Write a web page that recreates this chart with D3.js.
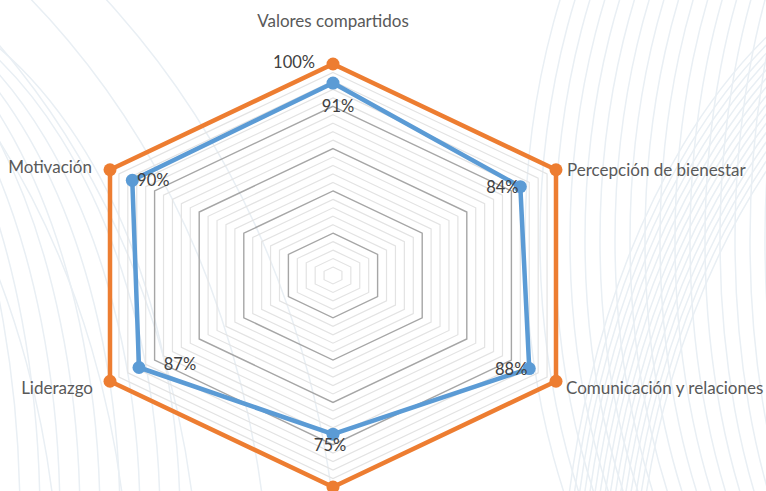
<!DOCTYPE html>
<html><head><meta charset="utf-8">
<script src="https://cdn.jsdelivr.net/npm/d3@7/dist/d3.min.js"></script>
<style>html,body{margin:0;padding:0;background:#fff;}svg{display:block;}</style>
</head><body>
<svg id="chart" width="766" height="491"></svg>
<script>
// ---- data ----
const categories = ["Valores compartidos", "Percepción de bienestar", "Comunicación y relaciones", "Trabajo en equipo", "Liderazgo", "Motivación"];
const targetValues = [1.00, 1.00, 1.00, 1.00, 1.00, 1.00];
const actualValues = [0.91, 0.84, 0.88, 0.75, 0.87, 0.90];
const gridTicks = d3.range(1, 26).map(i => i * 0.04);

// ---- layout ----
const W = 766, H = 491;
const cx = 333, cy = 275.5;
const rX = d3.scaleLinear().domain([0, 1]).range([0, 257.5]);
const rY = d3.scaleLinear().domain([0, 1]).range([0, 211.5]);
const angle = d3.scalePoint().domain(categories).range([0, 2 * Math.PI * 5 / 6]);
const px = (c, v) => cx + rX(v) * Math.sin(angle(c));
const py = (c, v) => cy - rY(v) * Math.cos(angle(c));

const svg = d3.select("#chart");
const textColor = "#595959";
const font = "Lato, 'Open Sans', sans-serif";

// ---- faint decorative background curves ----
const bg = svg.append("g").attr("fill", "none").attr("stroke", "#e9eff4").attr("stroke-width", 1.5);
d3.range(0, 18).forEach(i => {
  bg.append("ellipse").attr("cx", 930).attr("cy", 240).attr("rx", 150 + i * 15).attr("ry", 420 + i * 10);
});
d3.range(0, 16).forEach(i => {
  bg.append("ellipse").attr("cx", 980 + i * 11).attr("cy", 640).attr("rx", 420 + i * 6).attr("ry", 700);
});
d3.range(0, 9).forEach(i => {
  bg.append("ellipse").attr("cx", -220 + i * 6).attr("cy", 520).attr("rx", 240 + i * 14).attr("ry", 540);
});
d3.range(0, 5).forEach(i => {
  bg.append("ellipse").attr("cx", -420).attr("cy", 620).attr("rx", 480 + i * 70).attr("ry", 700 + i * 40);
});

// ---- grid ----
const hexLine = d3.line().x(d => d[0]).y(d => d[1]).curve(d3.curveLinearClosed);
const grid = svg.append("g").attr("fill", "none");
gridTicks.forEach((t, i) => {
  const major = (i + 1) % 5 === 0;
  grid.append("path")
    .attr("d", hexLine(categories.map(c => [px(c, t), py(c, t)])))
    .attr("stroke", major ? "#a6a6a6" : "#e3e3e3")
    .attr("stroke-width", major ? 1.4 : 1.2);
});

// ---- series ----
function drawSeries(values, color) {
  const pts = categories.map((c, i) => [px(c, values[i]), py(c, values[i])]);
  svg.append("path").attr("d", hexLine(pts)).attr("fill", "none")
    .attr("stroke", color).attr("stroke-width", 4.5).attr("stroke-linejoin", "round");
  svg.append("g").selectAll("circle").data(pts).join("circle")
    .attr("cx", d => d[0]).attr("cy", d => d[1]).attr("r", 6.5).attr("fill", color);
}
drawSeries(targetValues, "#ED7D31");
drawSeries(actualValues, "#5B9BD5");

// ---- category labels (the bottom one falls below the visible area, as in the reference) ----
const catLayout = [
  {dx: 0, dy: -44, anchor: "middle"},
  {dx: 11, dy: 0, anchor: "start"},
  {dx: 10, dy: 6, anchor: "start"},
  {dx: 0, dy: 34, anchor: "middle"},
  {dx: -17, dy: 6, anchor: "end"},
  {dx: -18, dy: -3, anchor: "end"}
];
const visibleCats = categories.map((c, i) => ({c, i}))
  .filter(d => py(d.c, 1) + catLayout[d.i].dy < H);
svg.append("g").selectAll("text").data(visibleCats).join("text")
  .attr("x", d => px(d.c, 1) + catLayout[d.i].dx)
  .attr("y", d => py(d.c, 1) + catLayout[d.i].dy)
  .attr("text-anchor", d => catLayout[d.i].anchor)
  .attr("dominant-baseline", "central")
  .attr("font-family", font).attr("font-size", 17).attr("fill", textColor)
  .text(d => d.c);

// ---- data labels ----
const valLayout = [
  {dx: 5, dy: 23},
  {dx: -18, dy: 0},
  {dx: -18, dy: 0},
  {dx: -3, dy: 11},
  {dx: 41, dy: -4},
  {dx: 21, dy: 0}
];
svg.append("g").selectAll("text").data(actualValues).join("text")
  .attr("x", (v, i) => px(categories[i], v) + valLayout[i].dx)
  .attr("y", (v, i) => py(categories[i], v) + valLayout[i].dy)
  .attr("text-anchor", "middle").attr("dominant-baseline", "central")
  .attr("font-family", font).attr("font-size", 16.5).attr("fill", "#404040")
  .text(v => d3.format(".0%")(v));
svg.append("text")
  .attr("x", px(categories[0], targetValues[0]) - 18)
  .attr("y", py(categories[0], targetValues[0]) - 2)
  .attr("text-anchor", "end").attr("dominant-baseline", "central")
  .attr("font-family", font).attr("font-size", 16.5).attr("fill", "#404040")
  .text(d3.format(".0%")(targetValues[0]));
</script>
</body></html>
